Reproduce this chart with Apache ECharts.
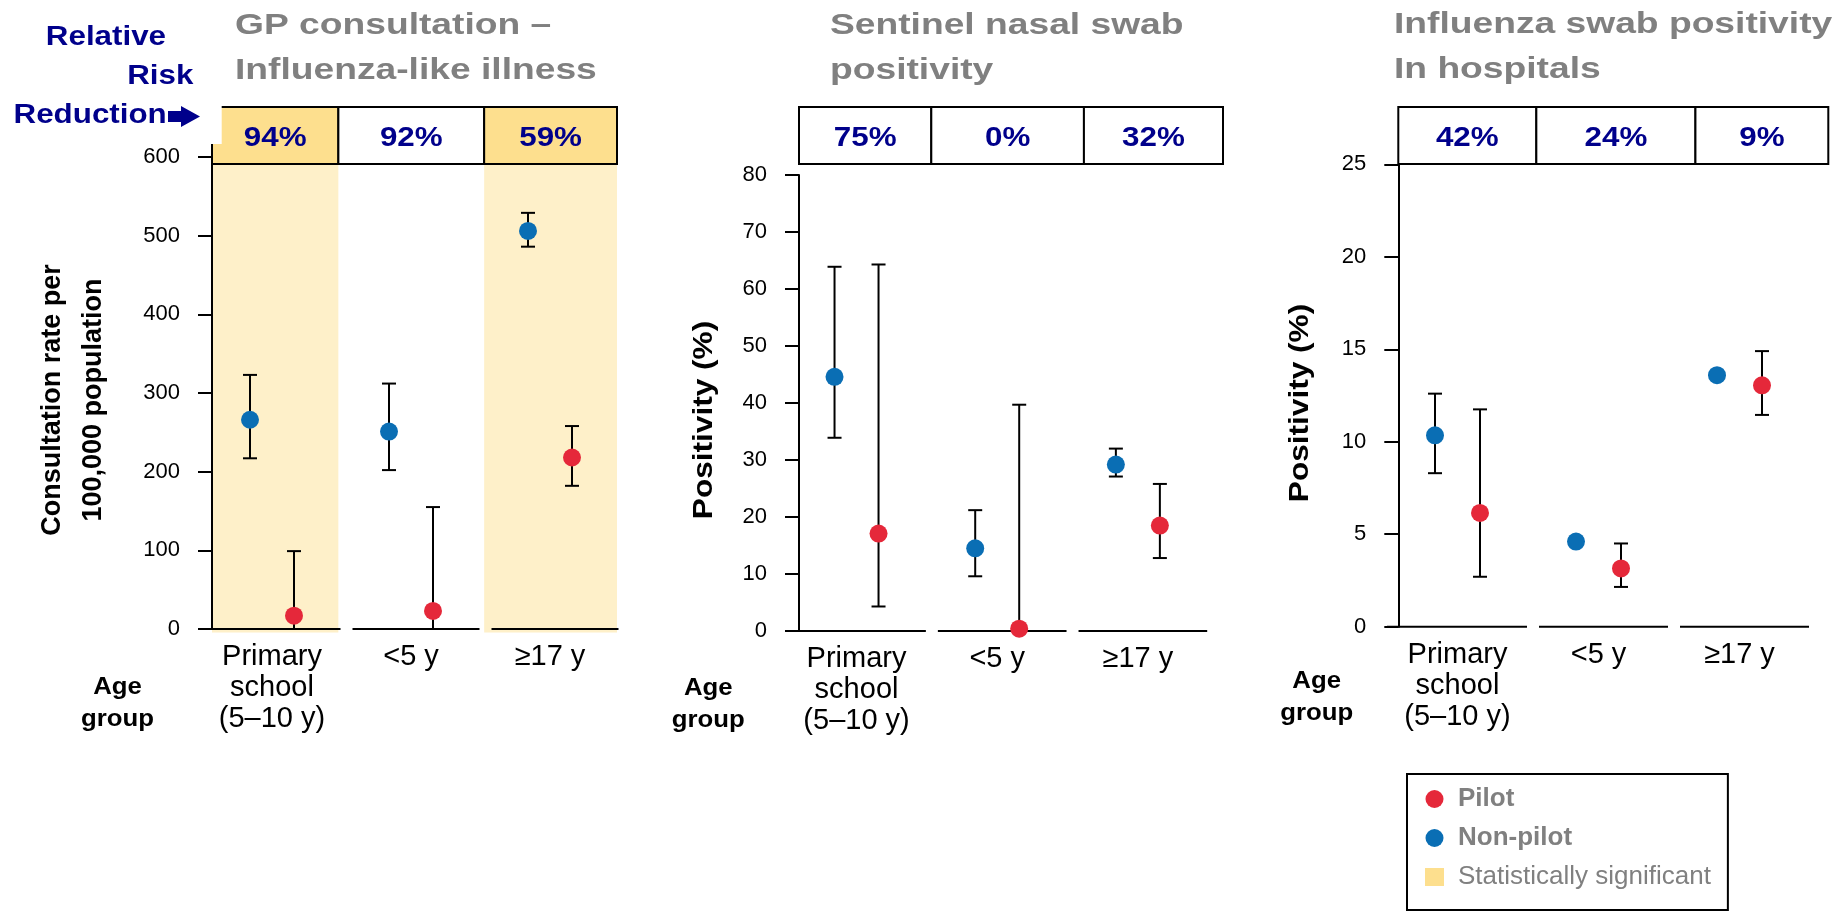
<!DOCTYPE html>
<html><head><meta charset="utf-8">
<script src="https://cdn.jsdelivr.net/npm/echarts@6/dist/echarts.min.js"></script>
<style>html,body{margin:0;padding:0;background:#fff}#c{width:1847px;height:911px}</style>
</head><body><div id="c"></div>
<script>
// ---------- DATA ----------
const categories = ['Primary\nschool\n(5–10 y)', '<5 y', '≥17 y'];

// Panel 1: GP consultation – ILI (rate per 100,000)
const gpTicks = [0, 100, 200, 300, 400, 500, 600];
const gpPilot = [17, 23, 218];
const gpPilotLow = [0, 0, 182];
const gpPilotHigh = [99, 155, 258];
const gpNonPilot = [266, 251, 506];
const gpNonPilotLow = [217, 202, 486];
const gpNonPilotHigh = [323, 312, 529];
const gpRRR = ['94%', '92%', '59%'];
const gpSignificant = [true, false, true];

// Panel 2: Sentinel nasal swab positivity (%)
const swabTicks = [0, 10, 20, 30, 40, 50, 60, 70, 80];
const swabPilot = [17.1, 0.4, 18.5];
const swabPilotLow = [4.3, 0, 12.8];
const swabPilotHigh = [64.3, 39.7, 25.8];
const swabNonPilot = [44.6, 14.5, 29.2];
const swabNonPilotLow = [33.9, 9.6, 27.1];
const swabNonPilotHigh = [63.9, 21.2, 32.0];
const swabRRR = ['75%', '0%', '32%'];
const swabSignificant = [false, false, false];

// Panel 3: Influenza swab positivity in hospitals (%)
const hospTicks = [0, 5, 10, 15, 20, 25];
const hospPilot = [6.15, 3.15, 13.05];
const hospPilotLow = [2.7, 2.15, 11.45];
const hospPilotHigh = [11.75, 4.5, 14.9];
const hospNonPilot = [10.35, 4.6, 13.6];
const hospNonPilotLow = [8.3, null, null];
const hospNonPilotHigh = [12.6, null, null];
const hospRRR = ['42%', '24%', '9%'];
const hospSignificant = [false, false, false];

// ---------- STYLE / LAYOUT ----------
const FONT = "'Liberation Sans', Arial, Helvetica, sans-serif";
const RED = '#E5283A', BLUE = '#0A6EB4', NAVY = '#00008B', GRAY = '#808080';
const SIG_BOX = '#FDDF8E', SIG_SHADE = '#FEF0C9';
const BOX_TOP = 107, BOX_H = 57;

const panels = [
  { grid: {left: 202.5, top: 157, width: 417, height: 472}, shift: 9.5, ticks: gpTicks, boxW: 405,
    frac: [0.312, 0.36, 0.328], dx: 22,
    pilot: [gpPilot, gpPilotLow, gpPilotHigh], non: [gpNonPilot, gpNonPilotLow, gpNonPilotHigh],
    rrr: gpRRR, sig: gpSignificant },
  { grid: {left: 786.2, top: 175, width: 422, height: 456}, shift: 12.8, ticks: swabTicks, boxW: 424,
    frac: [0.312, 0.36, 0.328], dx: 22,
    pilot: [swabPilot, swabPilotLow, swabPilotHigh], non: [swabNonPilot, swabNonPilotLow, swabNonPilotHigh],
    rrr: swabRRR, sig: swabSignificant },
  { grid: {left: 1387, top: 164.3, width: 423, height: 462.4}, shift: 11.3, ticks: hospTicks, boxW: 430,
    frac: [0.321, 0.37, 0.309], dx: 22.5,
    pilot: [hospPilot, hospPilotLow, hospPilotHigh], non: [hospNonPilot, hospNonPilotLow, hospNonPilotHigh],
    rrr: hospRRR, sig: hospSignificant }
];

function cellEdges(axisX, w, frac) {
  const e = [axisX];
  let acc = 0;
  frac.forEach(f => { acc += f; e.push(axisX + w * acc); });
  return e;
}

function pointSeries(name, color, arr, gi, dx) {
  const [vals, lows, highs] = arr;
  return {
    type: 'custom', name, xAxisIndex: gi, yAxisIndex: gi, z: 5, silent: true,
    itemStyle: {color},
    data: vals.map((v, i) => [i, v]),
    encode: {x: 0, y: 1},
    renderItem(params, api) {
      const k = params.dataIndex;
      const c = api.coord([k, vals[k]]);
      const x = c[0] + dx;
      const ch = [];
      if (lows[k] != null && highs[k] != null) {
        const yl = api.coord([k, lows[k]])[1], yh = api.coord([k, highs[k]])[1];
        const st = {stroke: '#000', lineWidth: 2};
        ch.push({type: 'line', shape: {x1: x, y1: yh, x2: x, y2: yl}, style: st});
        ch.push({type: 'line', shape: {x1: x - 7, y1: yh, x2: x + 7, y2: yh}, style: st});
        ch.push({type: 'line', shape: {x1: x - 7, y1: yl, x2: x + 7, y2: yl}, style: st});
      }
      ch.push({type: 'circle', shape: {cx: x, cy: c[1], r: 9}, style: {fill: color}});
      return {type: 'group', children: ch};
    }
  };
}

const grids = [], xAxes = [], yAxes = [], series = [];
panels.forEach((p, gi) => {
  grids.push(Object.assign({outerBoundsMode: 'none', containLabel: false}, p.grid));
  xAxes.push({
    type: 'category', gridIndex: gi, data: categories,
    axisLine: {show: false}, axisTick: {show: false}, splitLine: {show: false},
    axisLabel: {interval: 0, fontSize: 29, lineHeight: 31, color: '#000', margin: 12.5, fontFamily: FONT}
  });
  yAxes.push({
    type: 'value', gridIndex: gi, min: p.ticks[0], max: p.ticks[p.ticks.length - 1],
    interval: p.ticks[1] - p.ticks[0], offset: -p.shift, z: 4,
    axisLine: {show: true, lineStyle: {color: '#000', width: 2}},
    axisTick: {show: true, length: 14, lineStyle: {color: '#000', width: 2}},
    axisLabel: {fontSize: 22, color: '#000', margin: 32, fontFamily: FONT},
    splitLine: {show: false}
  });
  // significance shading
  series.push({
    type: 'custom', name: 'Statistically significant', xAxisIndex: gi, yAxisIndex: gi, z: 1, silent: true,
    itemStyle: {color: SIG_BOX},
    data: categories.map((c, i) => [i, 0]),
    renderItem(params, api) {
      const i = params.dataIndex;
      if (!p.sig[i]) return {type: 'group', children: []};
      const e = cellEdges(params.coordSys.x + p.shift, p.boxW, p.frac);
      const y0 = api.coord([i, 0])[1] + 3.5;
      return {type: 'rect', shape: {x: e[i], y: BOX_TOP + BOX_H, width: e[i + 1] - e[i], height: y0 - BOX_TOP - BOX_H},
        style: {fill: SIG_SHADE}};
    }
  });
  // broken baseline
  series.push({
    type: 'custom', xAxisIndex: gi, yAxisIndex: gi, z: 3, silent: true,
    data: categories.map((c, i) => [i, 0]),
    renderItem(params, api) {
      const i = params.dataIndex;
      const c = api.coord([i, 0]);
      const bw = api.size([1, 0])[0];
      const x1 = c[0] - bw / 2 + (i === 0 ? 0 : 11), x2 = c[0] + bw / 2 - 1;
      return {type: 'line', shape: {x1, y1: c[1], x2, y2: c[1]}, style: {stroke: '#000', lineWidth: 2}};
    }
  });
  series.push(pointSeries('Non-pilot', BLUE, p.non, gi, -p.dx));
  series.push(pointSeries('Pilot', RED, p.pilot, gi, p.dx));
  // relative risk reduction boxes
  series.push({
    type: 'custom', xAxisIndex: gi, yAxisIndex: gi, z: 10, silent: true,
    data: categories.map((c, i) => [i, 0]),
    renderItem(params, api) {
      const i = params.dataIndex;
      const e = cellEdges(params.coordSys.x + p.shift, p.boxW, p.frac);
      return {type: 'group', children: [
        {type: 'rect', shape: {x: e[i], y: BOX_TOP, width: e[i + 1] - e[i], height: BOX_H},
          style: {fill: p.sig[i] ? SIG_BOX : '#fff', stroke: '#000', lineWidth: 2}},
        {type: 'text', x: (e[i] + e[i + 1]) / 2, y: BOX_TOP + BOX_H / 2 + 3, scaleX: 1.12,
          style: {text: p.rrr[i], fill: NAVY, fontSize: 28, fontWeight: 'bold', fontFamily: FONT,
            align: 'center', verticalAlign: 'middle'}}
      ]};
    }
  });
});

function txt(text, x, y, o) {
  return {type: 'text', x, y, rotation: o.rot || 0, scaleX: o.sx || 1, silent: true, z: 20,
    style: Object.assign({text, fontFamily: FONT, fill: '#000', align: 'left', verticalAlign: 'middle'}, o.style)};
}
const titleStyle = {fontSize: 30, fontWeight: 'bold', fill: GRAY, lineHeight: 45.2};
const yNameStyle = {fontSize: 27, fontWeight: 'bold', lineHeight: 41.5, align: 'center'};
const ageStyle = {fontSize: 23, fontWeight: 'bold', lineHeight: 31.5, align: 'center'};
const rrrStyle = {fontSize: 27, fontWeight: 'bold', fill: NAVY, align: 'right'};

const graphic = [
  txt('GP consultation –\nInfluenza-like illness', 235, 48.4, {sx: 1.24, style: titleStyle}),
  txt('Sentinel nasal swab\npositivity', 830, 48.4, {sx: 1.24, style: titleStyle}),
  txt('Influenza swab positivity\nIn hospitals', 1394, 47, {sx: 1.24, style: titleStyle}),
  txt('Relative', 166, 38, {sx: 1.16, style: rrrStyle}),
  txt('Risk', 193.3, 76.7, {sx: 1.16, style: rrrStyle}),
  txt('Reduction', 166.7, 115.5, {sx: 1.16, style: rrrStyle}),
  {type: 'polygon', z: 20, silent: true,
    shape: {points: [[168, 111], [181, 111], [181, 106], [200, 116.5], [181, 127], [181, 122], [168, 122]]},
    style: {fill: NAVY}},
  {type: 'rect', z: 30, silent: true, shape: {x: 208, y: 104, width: 13.7, height: 40}, style: {fill: '#fff'}},
  txt('Consultation rate per\n100,000 population', 73, 400, {rot: Math.PI / 2, style: yNameStyle}),
  txt('Positivity (%)', 704.6, 420, {rot: Math.PI / 2, sx: 1.17, style: yNameStyle}),
  txt('Positivity (%)', 1301, 403, {rot: Math.PI / 2, sx: 1.17, style: yNameStyle}),
  txt('Age\ngroup', 117.5, 703.5, {sx: 1.12, style: ageStyle}),
  txt('Age\ngroup', 708.3, 704.5, {sx: 1.12, style: ageStyle}),
  txt('Age\ngroup', 1316.7, 697.5, {sx: 1.12, style: ageStyle})
];

const chart = echarts.init(document.getElementById('c'), null, {renderer: 'canvas'});
chart.setOption({
  animation: false,
  backgroundColor: '#fff',
  textStyle: {fontFamily: FONT},
  grid: grids, xAxis: xAxes, yAxis: yAxes, series,
  legend: {
    orient: 'vertical', left: 1407, top: 774, selectedMode: false,
    padding: [12, 17, 20, 18], borderColor: '#000', borderWidth: 2, borderRadius: 0,
    itemGap: 13, itemWidth: 19, itemHeight: 18,
    data: [{name: 'Pilot', icon: 'circle'}, {name: 'Non-pilot', icon: 'circle'},
      {name: 'Statistically significant', icon: 'rect'}],
    formatter: n => n === 'Statistically significant' ? '{n|' + n + '}' : '{b|' + n + '}',
    textStyle: {rich: {
      b: {fontSize: 26, fontWeight: 'bold', color: GRAY, lineHeight: 30, padding: [0, 0, 0, 9], fontFamily: FONT},
      n: {fontSize: 26, color: GRAY, lineHeight: 30, padding: [0, 0, 0, 9], fontFamily: FONT}
    }}
  },
  graphic
});
</script></body></html>
